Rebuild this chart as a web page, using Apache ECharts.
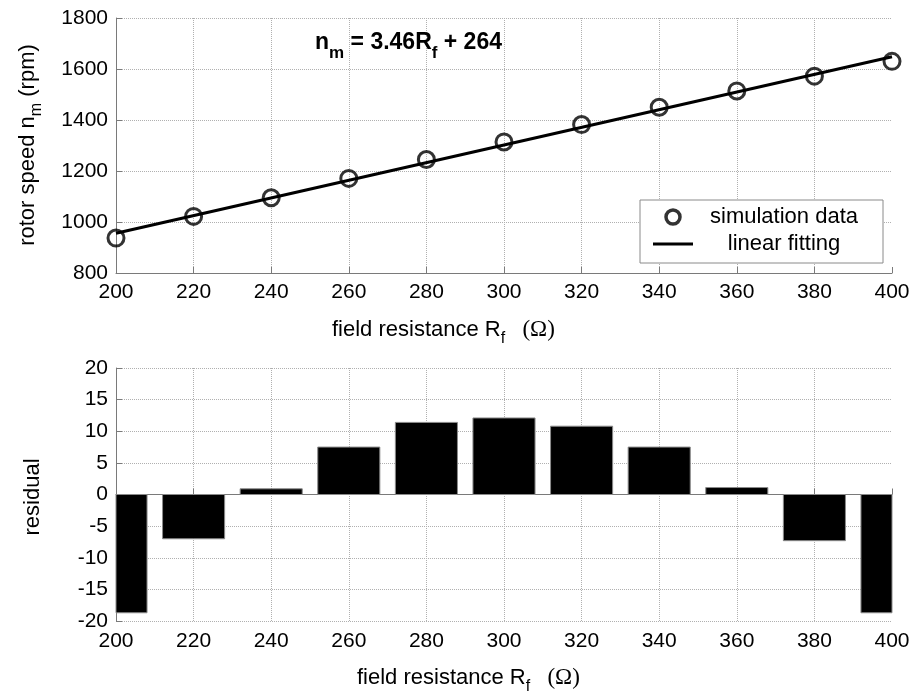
<!DOCTYPE html>
<html>
<head>
<meta charset="utf-8">
<title>rotor speed vs field resistance</title>
<script src="https://cdn.jsdelivr.net/npm/echarts@6/dist/echarts.min.js"></script>
<style>
  html, body { margin: 0; padding: 0; background: #fff; }
  #chart { width: 914px; height: 694px; }
</style>
</head>
<body>
<div id="chart"></div>
<script>
// field resistance values (ohm)
const rf = [200, 220, 240, 260, 280, 300, 320, 340, 360, 380, 400];
// simulated rotor speed (rpm)
const speed = [937, 1022, 1095, 1171, 1245, 1314, 1382, 1450, 1514, 1572, 1630];
// linear fit n = 3.46 Rf + 264, end points
const fitX = [200, 400];
const fitY = [956, 1648];
// residuals of the fit
const residual = [-18.7, -7.0, 0.9, 7.5, 11.4, 12.1, 10.8, 7.5, 1.1, -7.3, -18.7];

const FONT = "'Liberation Sans', Arial, sans-serif";
const chart = echarts.init(document.getElementById("chart"));

// common axis look
function xAxisCfg(grid, margin) {
  return {
    type: "value",
    gridIndex: grid,
    min: 200,
    max: 400,
    interval: 20,
    axisLine: { lineStyle: { color: "#7a7a7a", width: 1 } },
    axisTick: { inside: true, length: 6, lineStyle: { color: "#7a7a7a" } },
    axisLabel: { color: "#000", fontSize: 21, fontFamily: FONT, margin: margin, formatter: (v) => String(v) },
    splitLine: { show: true, showMaxLine: false, lineStyle: { color: "#b0b0b0", type: "dotted" } },
  };
}
function yAxisCfg(grid, min, max, step) {
  return {
    type: "value",
    gridIndex: grid,
    min: min,
    max: max,
    interval: step,
    axisLine: { show: true, lineStyle: { color: "#7a7a7a", width: 1 } },
    axisTick: { show: true, inside: true, length: 6, lineStyle: { color: "#7a7a7a" } },
    axisLabel: { color: "#000", fontSize: 21, fontFamily: FONT, margin: 8, formatter: (v) => String(v) },
    splitLine: { show: true, lineStyle: { color: "#b0b0b0", type: "dotted" } },
  };
}

// rich styles for subscripts
const subRich = {
  a: { fontSize: 22, fontFamily: FONT, lineHeight: 26, fill: "#000" },
  s: { fontSize: 16, fontFamily: FONT, lineHeight: 15, padding: [18, 0, 0, 0], fill: "#000" },
  g: { fontSize: 23, fontFamily: "'Liberation Serif', serif", lineHeight: 26, fill: "#000" },
};
const boldRich = {
  a: { fontSize: 23, fontWeight: "bold", fontFamily: FONT, lineHeight: 26, fill: "#000" },
  s: { fontSize: 17, fontWeight: "bold", fontFamily: FONT, lineHeight: 16, padding: [20, 0, 0, 0], fill: "#000" },
};

function label(x, y, text, rich, rot, align) {
  return {
    type: "text",
    x: x,
    y: y,
    rotation: rot || 0,
    z: 100,
    style: {
      text: text,
      rich: rich,
      font: "22px " + FONT,
      fill: "#000",
      align: align || "center",
      verticalAlign: "middle",
      textAlign: align || "center",
      textVerticalAlign: "middle",
    },
  };
}

// bars of the residual plot, clipped to the plot area
function renderBar(params, api) {
  const x = api.value(0);
  const v = api.value(1);
  const p0 = api.coord([x, 0]);
  const p1 = api.coord([x, v]);
  const w = api.size([20, 0])[0] * 0.8;
  const rect = echarts.graphic.clipRectByRect(
    { x: p0[0] - w / 2, y: Math.min(p0[1], p1[1]), width: w, height: Math.abs(p1[1] - p0[1]) },
    { x: params.coordSys.x, y: params.coordSys.y, width: params.coordSys.width, height: params.coordSys.height }
  );
  return rect && {
    type: "rect",
    shape: rect,
    style: { fill: "#000", stroke: "#8a8a8a", lineWidth: 1 },
  };
}

const option = {
  backgroundColor: "#fff",
  animation: false,
  grid: [
    { left: 116, right: 22, top: 18, bottom: 421 },
    { left: 116, right: 22, top: 368, bottom: 73 },
  ],
  xAxis: [xAxisCfg(0, 9), xAxisCfg(1, 10)],
  yAxis: [yAxisCfg(0, 800, 1800, 200), yAxisCfg(1, -20, 20, 5)],
  legend: {
    orient: "vertical",
    left: 640,
    top: 200,
    padding: [6, 13, 8, 13],
    itemGap: 5,
    itemWidth: 40,
    itemHeight: 14,
    backgroundColor: "#fff",
    borderColor: "#8a8a8a",
    borderWidth: 1,
    borderRadius: 0,
    selectedMode: false,
    formatter: (n) => "{t|" + n + "}",
    textStyle: {
      color: "#000",
      rich: { t: { width: 172, align: "center", fontSize: 22, fontFamily: FONT, lineHeight: 22 } },
    },
    data: [
      { name: "simulation data", icon: "circle", itemStyle: { color: "rgba(255,255,255,0)", borderColor: "#000", borderWidth: 3.5 } },
      { name: "linear fitting", icon: "path://M0,0 L40,0 L40,3 L0,3 Z", itemStyle: { color: "#000", borderWidth: 0 } },
    ],
  },
  graphic: [
    label(28, 145, "{a|rotor speed n}{s|m}{a| (rpm)}", subRich, Math.PI / 2),
    label(33, 497, "residual", null, Math.PI / 2),
    label(332, 330, "{a|field resistance R}{s|f}{g|   (Ω)}", subRich, 0, "left"),
    label(357, 678, "{a|field resistance R}{s|f}{g|   (Ω)}", subRich, 0, "left"),
    label(315, 43, "{a|n}{s|m}{a| = 3.46R}{s|f}{a| + 264}", boldRich, 0, "left"),
  ],
  series: [
    {
      name: "linear fitting",
      type: "line",
      xAxisIndex: 0,
      yAxisIndex: 0,
      data: fitX.map((x, i) => [x, fitY[i]]),
      showSymbol: false,
      symbol: "none",
      lineStyle: { color: "#000", width: 3 },
      itemStyle: { color: "#000" },
      z: 2,
    },
    {
      name: "simulation data",
      type: "scatter",
      xAxisIndex: 0,
      yAxisIndex: 0,
      data: rf.map((x, i) => [x, speed[i]]),
      symbol: "circle",
      symbolSize: 16,
      itemStyle: { color: "rgba(255,255,255,0)", borderColor: "#000", borderWidth: 3 },
      z: 3,
    },
    {
      name: "residual",
      type: "custom",
      xAxisIndex: 1,
      yAxisIndex: 1,
      renderItem: renderBar,
      encode: { x: 0, y: 1 },
      data: rf.map((x, i) => [x, residual[i]]),
      z: 1,
    },
  ],
};

chart.setOption(option);
</script>
</body>
</html>
